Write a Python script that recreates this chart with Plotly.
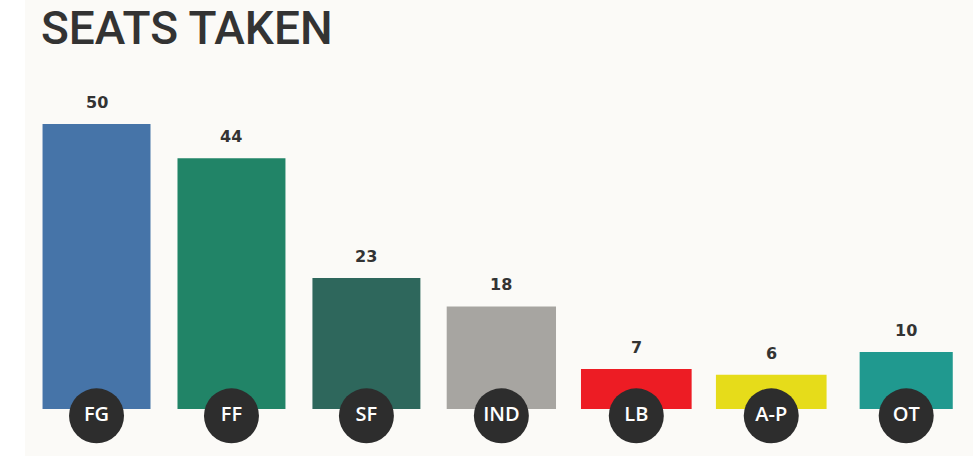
import plotly.graph_objects as go

# ---- data ----
parties = ["FG", "FF", "SF", "IND", "LB", "A-P", "OT"]
seats = [50, 44, 23, 18, 7, 6, 10]
colors = ["#4674a8", "#218467", "#2e675c", "#a7a5a1", "#ed1c24", "#e6dc1a", "#20998f"]
title_text = "SEATS TAKEN"

# ---- style ----
BG = "#fbfaf7"
DARK = "#2d2d2d"
TEXT = "#333333"
bar_widths = [0.80, 0.80, 0.80, 0.81, 0.82, 0.82, 0.69]
badge_y = -1.2

fig = go.Figure()
fig.add_trace(go.Bar(
    x=parties, y=seats, marker=dict(color=colors, line=dict(width=0)),
    width=bar_widths, hoverinfo="skip", showlegend=False,
))
fig.add_trace(go.Scatter(
    x=parties, y=[badge_y] * len(parties), mode="markers+text",
    marker=dict(size=55, color=DARK, line=dict(width=0)),
    text=parties, textposition="middle center",
    textfont=dict(family="Open Sans", size=20, color="white", weight=600),
    hoverinfo="skip", showlegend=False, cliponaxis=False,
))

for p, v in zip(parties, seats):
    fig.add_annotation(
        x=p, y=v, text=str(v), showarrow=False, yanchor="bottom", yshift=10,
        font=dict(family="DejaVu Sans", size=16, color=TEXT, weight="bold"),
    )

fig.add_annotation(
    xref="paper", yref="paper", x=0.016, y=1, xanchor="left", yanchor="top",
    borderpad=0,
    text=title_text, showarrow=False,
    font=dict(family="Roboto", size=46, color=TEXT, weight=500),
)

fig.update_layout(
    width=980, height=456,
    margin=dict(l=25, r=7, t=0, b=0),
    paper_bgcolor="white", plot_bgcolor=BG,
    bargap=0.2,
    xaxis=dict(visible=False, range=[-0.530, 6.495], type="category"),
    yaxis=dict(visible=False, range=[-8.25, 71.75]),
)

fig.write_html("out.html", config={"displayModeBar": False},
               post_script="document.body.style.margin='0';")
